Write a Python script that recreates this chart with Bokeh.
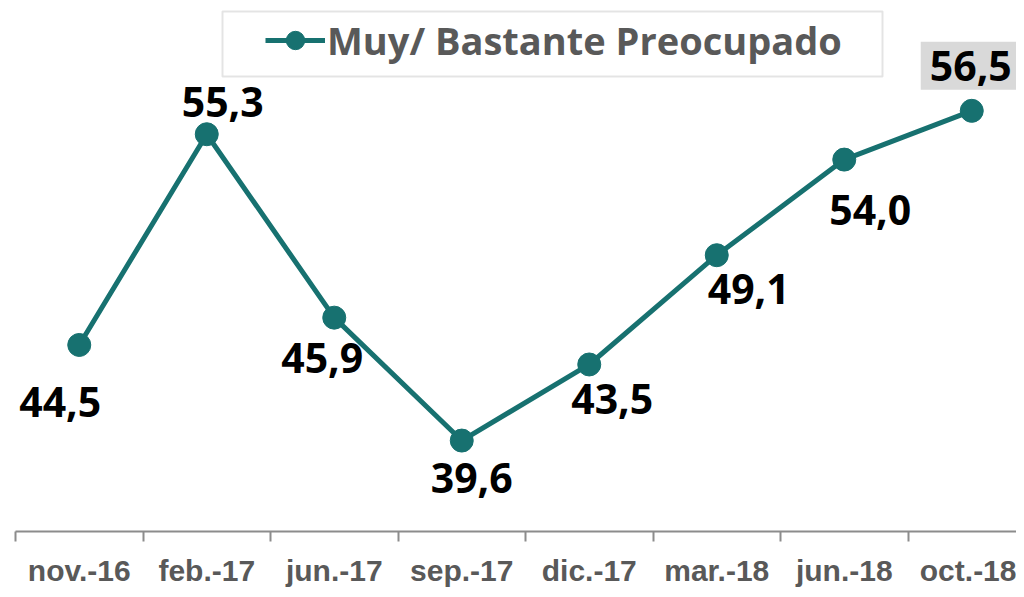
from bokeh.plotting import figure
from bokeh.models import (Range1d, FixedTicker, ColumnDataSource, LabelSet, Label,
                          Legend, LegendItem, BoxAnnotation)
from bokeh.core.properties import value
from bokeh.embed import file_html
from bokeh.resources import INLINE

categories = ["nov.-16", "feb.-17", "jun.-17", "sep.-17", "dic.-17", "mar.-18", "jun.-18", "oct.-18"]
values = [44.5, 55.3, 45.9, 39.6, 43.5, 49.1, 54.0, 56.5]
series_name = "Muy/ Bastante Preocupado"

# label offsets in screen pixels (layout, not data)
label_dx = [-19, 16, -12, 10, 23, 32, 26]
label_dy = [-57, 32, -40, -37, -35, -34, -50]

TEAL = "#177170"
GREY = "#595959"

xs = [i + 0.5 for i in range(len(categories))]
labels = [f"{v:.1f}".replace(".", ",") for v in values]

p = figure(width=1016, height=589, output_backend="svg", toolbar_location=None,
           x_range=Range1d(0, 1001 / 127.5), y_range=Range1d(34.94, 62.154),
           y_axis_location=None, min_border_left=15, min_border_right=0,
           min_border_top=0, min_border_bottom=57)
p.outline_line_color = None
p.grid.visible = False
p.background_fill_color = "white"
p.border_fill_color = "white"

src = ColumnDataSource(dict(x=xs, y=values, label=labels))
line = p.line("x", "y", source=src, line_color=TEAL, line_width=5)
dots = p.scatter("x", "y", source=src, size=23, fill_color=TEAL, line_color=TEAL)

n = len(categories)
ax = p.xaxis[0]
ax.ticker = FixedTicker(ticks=xs, minor_ticks=list(range(n + 1)))
ax.major_label_overrides = {x: c for x, c in zip(xs, categories)}
ax.major_tick_out = 0
ax.major_tick_in = 0
ax.minor_tick_out = 10
ax.minor_tick_in = 0
ax.minor_tick_line_color = "#8c8c8c"
ax.minor_tick_line_width = 2
ax.axis_line_color = "#8c8c8c"
ax.axis_line_width = 2
ax.major_label_text_font = "Liberation Sans"
ax.major_label_text_font_style = "bold"
ax.major_label_text_font_size = "30px"
ax.major_label_text_color = GREY
ax.major_label_standoff = 12

lsrc = ColumnDataSource(dict(x=xs[:-1], y=values[:-1], label=labels[:-1],
                             dx=label_dx, dy=label_dy))
ls = LabelSet(x="x", y="y", text="label", source=lsrc, x_offset="dx", y_offset="dy",
              text_align="center", text_baseline="middle",
              text_font=value("Open Sans"), text_font_style="bold",
              text_font_size=value("41px"), text_color="black")
p.add_layout(ls)

last = Label(x=xs[-1], y=values[-1], text=labels[-1], x_offset=-1, y_offset=45,
             text_align="center", text_baseline="middle",
             text_font="Open Sans", text_font_style="bold", text_font_size="41px",
             text_color="black", background_fill_color="#d9d9d9", padding=9)
p.add_layout(last)

box = BoxAnnotation(left=207, right=867, bottom=455, top=520,
                    left_units="screen", right_units="screen",
                    bottom_units="screen", top_units="screen",
                    fill_alpha=0, line_color="#a6a6a6", line_width=2)
p.add_layout(box)

legend = Legend(items=[LegendItem(label=series_name, renderers=[line, dots])],
                location=(250, 465), orientation="horizontal",
                glyph_width=60, glyph_height=46, label_standoff=2, padding=0,
                label_text_font="Open Sans", label_text_font_style="bold",
                label_text_font_size="38px", label_text_color=GREY,
                border_line_alpha=0, background_fill_alpha=0)
p.add_layout(legend)

open("out.html", "w").write(file_html(p, INLINE))
